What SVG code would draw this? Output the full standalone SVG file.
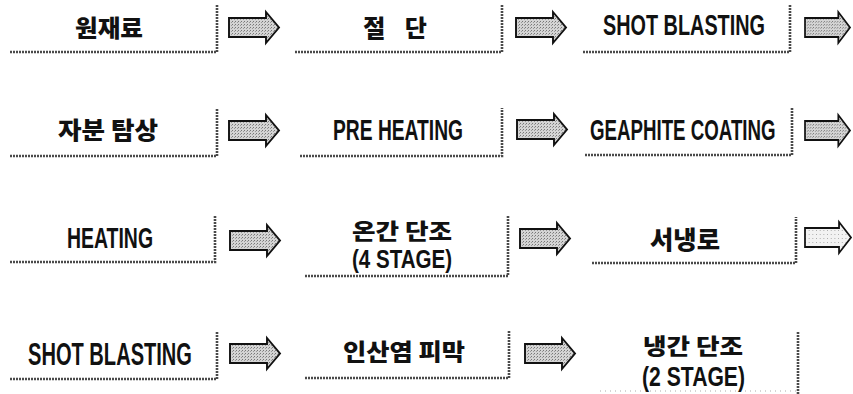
<svg xmlns="http://www.w3.org/2000/svg" width="853" height="394" viewBox="0 0 853 394">
<style>
.box{fill:none;stroke:#4a4a4a;stroke-width:2.6;stroke-dasharray:2 1}
.faint{fill:none;stroke:#c8c8c8;stroke-width:1.5;stroke-dasharray:1 4}
.arr{fill:url(#ht);stroke:#111;stroke-width:1.9;stroke-linejoin:miter}
.arrl{fill:url(#htl);stroke:#111;stroke-width:1.9}
.ko{font-family:"Noto Sans CJK KR","Noto Sans",sans-serif;font-weight:900;fill:#111}
.en{font-family:"Liberation Sans",Arial,sans-serif;font-weight:700;fill:#111}
</style>
<defs>
<pattern id="ht" width="3" height="3" patternUnits="userSpaceOnUse">
<rect width="3" height="3" fill="#d4d4d4"/>
<rect x="0" y="0" width="1" height="1" fill="#777"/>
<rect x="2" y="1" width="1" height="1" fill="#999"/>
</pattern>
<pattern id="htl" width="4" height="4" patternUnits="userSpaceOnUse">
<rect width="4" height="4" fill="#f2f2f2"/>
<rect x="0" y="0" width="1" height="1" fill="#aaa"/>
</pattern>
<path id="arrow" d="M0,6 H37 V0 L50,15.5 L37,31 V25 H0 Z"/>
</defs>

<g id="node-raw">
<polyline class="box" points="10,52 217,52 217,5"/>
<text class="ko" x="75" y="37" font-size="24" textLength="68" lengthAdjust="spacingAndGlyphs">원재료</text>
</g>
<g id="node-cut">
<polyline class="box" points="295,52 502,52 502,5"/>
<text class="ko" x="395" y="37" font-size="24" text-anchor="middle" word-spacing="14">절 단</text>
</g>
<g id="node-shot1">
<polyline class="box" points="583,52 790,52 790,5"/>
<text class="en" x="603" y="35" font-size="29" textLength="162" lengthAdjust="spacingAndGlyphs">SHOT BLASTING</text>
</g>

<g id="node-mt">
<polyline class="box" points="10,156 217,156 217,108"/>
<text class="ko" x="58" y="139" font-size="24" textLength="100" lengthAdjust="spacingAndGlyphs">자분 탐상</text>
</g>
<g id="node-preheat">
<polyline class="box" points="300,156 502,156 502,108"/>
<text class="en" x="333" y="140" font-size="29" textLength="130" lengthAdjust="spacingAndGlyphs">PRE HEATING</text>
</g>
<g id="node-coat">
<polyline class="box" points="585,155 792,155 792,108"/>
<text class="en" transform="translate(590,140) scale(0.645,1)" font-size="29">GEAPHITE COATING</text>
</g>

<g id="node-heat">
<polyline class="box" points="10,262 215,262 215,216"/>
<text class="en" x="67" y="248" font-size="29" textLength="86" lengthAdjust="spacingAndGlyphs">HEATING</text>
</g>
<g id="node-warm">
<polyline class="box" points="305,276 508,276 508,215"/>
<text class="ko" x="352" y="239" font-size="22" textLength="100" lengthAdjust="spacingAndGlyphs">온간 단조</text>
<text class="en" x="352" y="268" font-size="26" textLength="100" lengthAdjust="spacingAndGlyphs">(4 STAGE)</text>
</g>
<g id="node-slowcool">
<polyline class="box" points="592,263 796,263 796,217"/>
<text class="ko" x="650" y="249" font-size="25" textLength="70" lengthAdjust="spacingAndGlyphs">서냉로</text>
</g>

<g id="node-shot2">
<polyline class="box" points="10,379 217,379 217,332"/>
<text class="en" x="28" y="365" font-size="31" textLength="164" lengthAdjust="spacingAndGlyphs">SHOT BLASTING</text>
</g>
<g id="node-phos">
<polyline class="box" points="305,378 509,378 509,330"/>
<text class="ko" x="343" y="360" font-size="23" textLength="122" lengthAdjust="spacingAndGlyphs">인산염 피막</text>
</g>
<g id="node-cold">
<line class="faint" x1="600" y1="391" x2="796" y2="391"/>
<line class="box" x1="798" y1="332" x2="798" y2="394"/>
<text class="ko" x="643" y="354" font-size="22" textLength="100" lengthAdjust="spacingAndGlyphs">냉간 단조</text>
<text class="en" x="642" y="386" font-size="27" textLength="103" lengthAdjust="spacingAndGlyphs">(2 STAGE)</text>
</g>

<g id="connectors">
<use href="#arrow" class="arr" transform="translate(229,12)"/>
<use href="#arrow" class="arr" transform="translate(516,12)"/>
<use href="#arrow" class="arr" transform="translate(805,12) scale(0.9,1)"/>
<use href="#arrow" class="arr" transform="translate(229,115)"/>
<use href="#arrow" class="arr" transform="translate(517,114)"/>
<use href="#arrow" class="arr" transform="translate(805,115) scale(0.9,1)"/>
<use href="#arrow" class="arr" transform="translate(230,225)"/>
<use href="#arrow" class="arr" transform="translate(520,223)"/>
<use href="#arrow" class="arrl" transform="translate(805,222) scale(0.92,1)"/>
<use href="#arrow" class="arr" transform="translate(230,338)"/>
<use href="#arrow" class="arr" transform="translate(525,338)"/>
</g>
</svg>
